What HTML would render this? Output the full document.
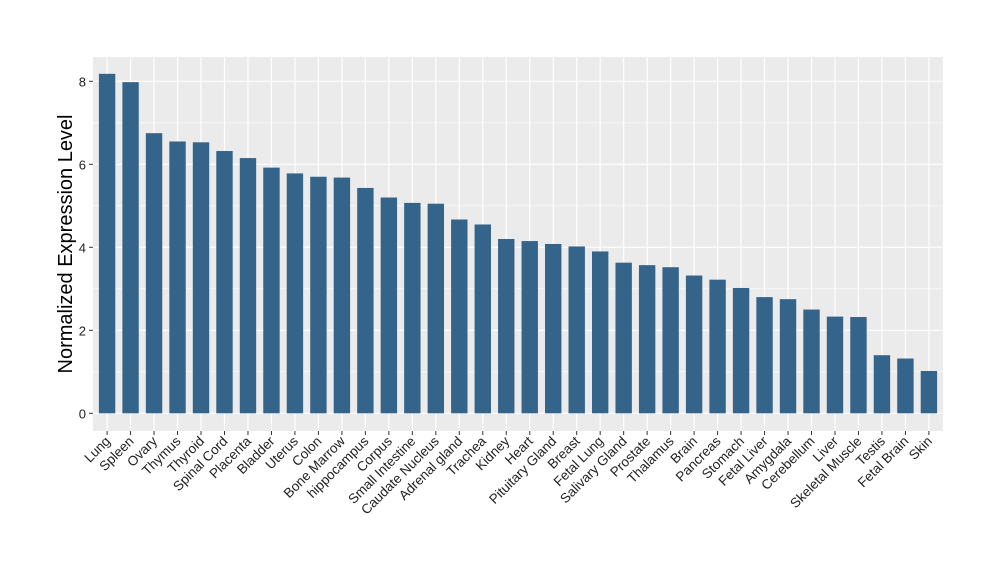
<!DOCTYPE html>
<html><head><meta charset="utf-8"><style>
body{margin:0;background:#fff;font-family:"Liberation Sans",Arial,sans-serif;}
</style></head><body>
<svg width="1000" height="580" xmlns="http://www.w3.org/2000/svg">
<rect x="93" y="57" width="850" height="374" fill="#ebebeb"/>
<g id="grid"></g><g id="bars"></g><g id="axes"></g>
<text transform="translate(72,244) rotate(-90)" text-anchor="middle" font-size="20" fill="#000">Normalized Expression Level</text>
</svg>
<script>
const categories=["Lung","Spleen","Ovary","Thymus","Thyroid","Spinal Cord","Placenta","Bladder","Uterus","Colon","Bone Marrow","hippocampus","Corpus","Small Intestine","Caudate Nucleus","Adrenal gland","Trachea","Kidney","Heart","Pituitary Gland","Breast","Fetal Lung","Salivary Gland","Prostate","Thalamus","Brain","Pancreas","Stomach","Fetal Liver","Amygdala","Cerebellum","Liver","Skeletal Muscle","Testis","Fetal Brain","Skin"];
const values=[8.18,7.98,6.75,6.55,6.53,6.32,6.15,5.92,5.78,5.7,5.68,5.43,5.2,5.07,5.05,4.67,4.55,4.2,4.15,4.08,4.02,3.9,3.63,3.57,3.52,3.32,3.22,3.02,2.8,2.75,2.5,2.33,2.32,1.4,1.32,1.02];
const yTicks=[0,2,4,6,8];
const NS="http://www.w3.org/2000/svg";
const left=93,right=943,n=categories.length,step=(right-left)/(n+0.2);
function xc(i){return left+step*(0.6+i);}
function y(v){return 413.3-v*41.5;}
function mk(tag,attrs,parent){const e=document.createElementNS(NS,tag);for(const k in attrs)e.setAttribute(k,attrs[k]);document.getElementById(parent).appendChild(e);return e;}
for(let v=1;v<=9;v+=2){if(y(v)>57){const g=mk('line',{x1:left,x2:right,y1:y(v),y2:y(v),stroke:'#fff','stroke-width':0.6},'grid');

}}
yTicks.forEach(t=>{const g=mk('line',{x1:left,x2:right,y1:y(t),y2:y(t),stroke:'#fff','stroke-width':1.2},'grid');


const tk=mk('line',{x1:left-4,x2:left,y1:y(t),y2:y(t),stroke:'#333','stroke-width':1},'axes');


const tx=mk('text',{x:left-7,y:y(t)+5,'text-anchor':'end','font-size':13,fill:'#222'},'axes');
tx.textContent=t;

});
categories.forEach((c,i)=>{const x=xc(i);
const gl=mk('line',{x1:x,x2:x,y1:57,y2:431,stroke:'#fff','stroke-width':1.2},'grid');


const b=mk('rect',{x:x-8.2,y:y(values[i]),width:16.4,height:y(0)-y(values[i]),fill:'#35648a'},'bars');


const tk=mk('line',{x1:x,x2:x,y1:431,y2:435,stroke:'#333','stroke-width':1},'axes');


const tx=mk('text',{transform:`translate(${x+4},${442}) rotate(-45)`,'text-anchor':'end','font-size':13.5,fill:'#222'},'axes');
tx.textContent=c;

});
</script>
</body></html>
